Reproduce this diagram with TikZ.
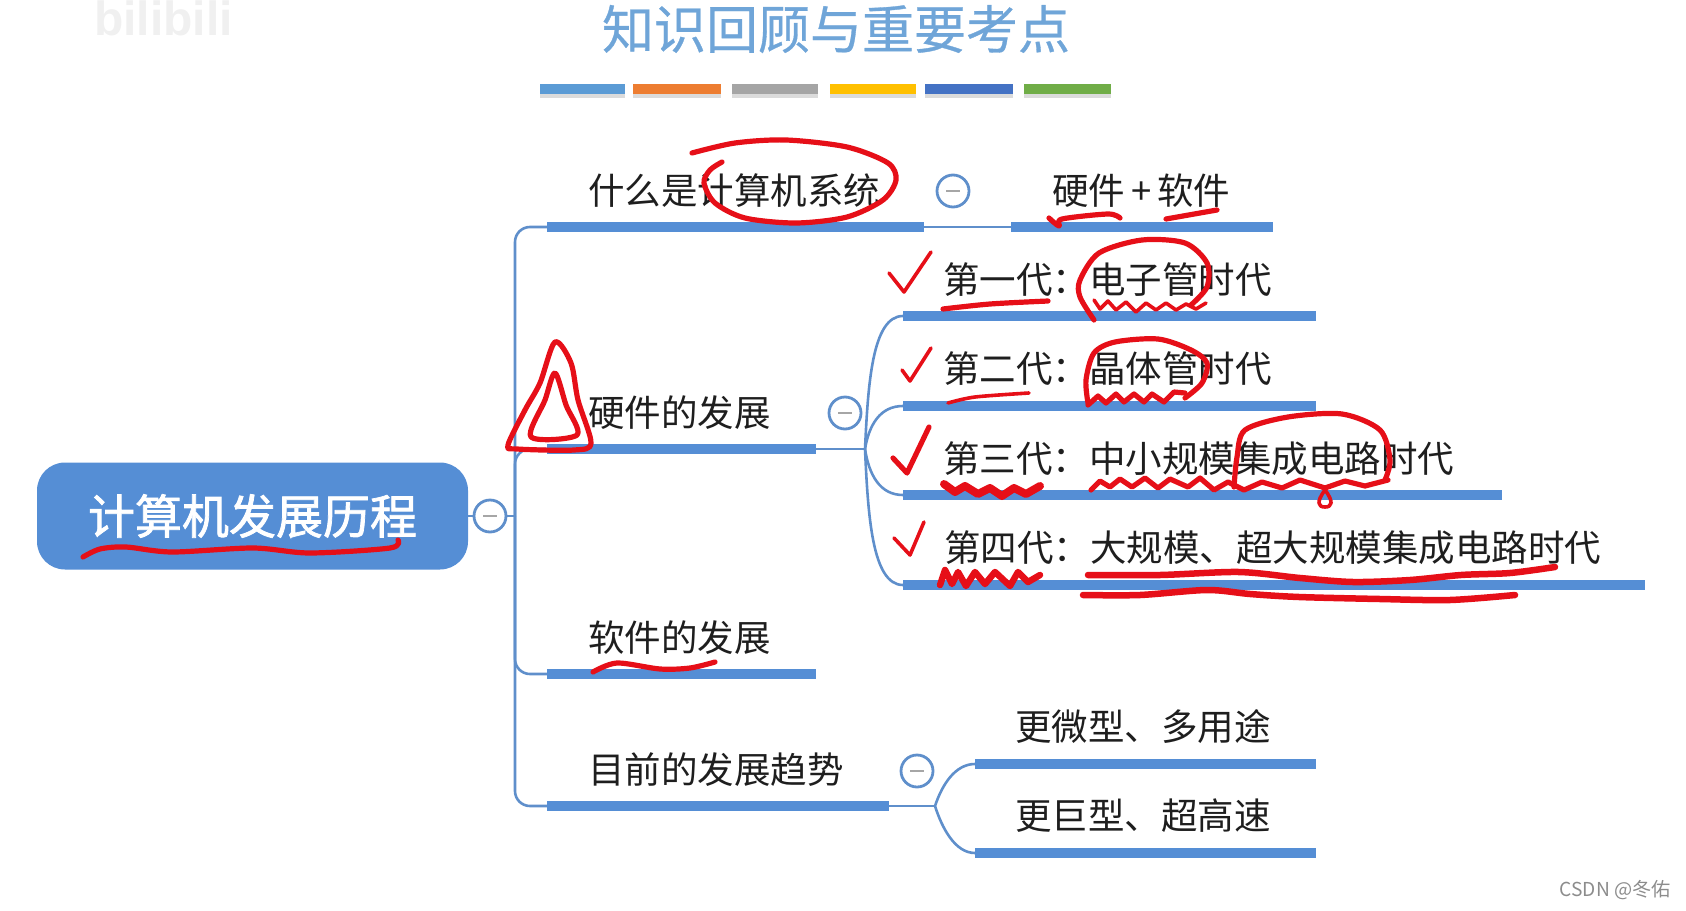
\documentclass[tikz,border=0pt]{standalone}
\usepackage{fontspec}
\setmainfont{Noto Sans CJK SC}
\newfontfamily\latinf{Liberation Sans}
\newfontfamily\rootf[FakeBold=1.6]{Noto Sans CJK SC}
\newfontfamily\titlef[FakeBold=0.6]{Noto Sans CJK SC}
\definecolor{mapblue}{HTML}{558ED5}
\definecolor{linkblue}{HTML}{5F8FCB}
\definecolor{inkred}{HTML}{E60F18}
\definecolor{titleblue}{HTML}{6FA5D8}
\definecolor{txt}{HTML}{1E1E1E}
\tikzset{
  barnode/.style={fill=mapblue,draw=none,anchor=west,inner sep=0pt,minimum height=10pt},
  lab/.style={anchor=west,inner sep=0pt,text=txt,font=\fontsize{36.5}{40}\selectfont},
  collapse/.style={circle,draw=linkblue,line width=2.8pt,fill=white,minimum size=32pt,inner sep=0pt,
    path picture={\draw[gray!70,line width=2.5pt] (-7pt,0)--(7pt,0);}},
  link/.style={draw=linkblue,line width=2.6pt},
  ink/.style={draw=inkred,line width=3.6pt,line cap=round,line join=round},
  inkthick/.style={draw=inkred,line width=5.2pt,line cap=round,line join=round},
  deco/.style={anchor=west,inner sep=0pt,minimum height=10pt},
  shade/.style={fill=black!14,draw=none,anchor=west,inner sep=0pt,minimum height=6pt}
}
\begin{document}
\begin{tikzpicture}[x=1pt,y=-1pt]
\useasboundingbox (0,0) rectangle (1686,910);
% watermark
\node[anchor=west,inner sep=0pt,text=black!6,font=\latinf\bfseries\fontsize{48}{50}\selectfont] (wm) at (94,18) {bilibili};
% title
\node[inner sep=0pt,text=titleblue,font=\titlef\fontsize{52}{56}\selectfont] (title) at (836,29) {知识回顾与重要考点};
% colour bars
\foreach \x/\w/\c in {540/85/5B9BD5,633/88/ED7D31,732/86/A5A5A5,830/86/FFC000,925/88/4472C4,1024/87/70AD47}{
  \definecolor{cc}{HTML}{\c}
  \node[shade,minimum width=\w pt] at (\x,95) {};
  \node[deco,fill=cc,minimum width=\w pt] at (\x,89) {};
}
% root
\node[fill=mapblue,rounded corners=28pt,minimum width=431pt,minimum height=107pt,inner sep=0pt,text=white,font=\rootf\fontsize{47}{50}\selectfont] (root) at (252.5,516) {计算机发展历程};
% bars
\node[barnode,minimum width=377pt] (whatbar) at (547,227) {};
\node[barnode,minimum width=262pt] (hsbar) at (1011,227) {};
\node[barnode,minimum width=269pt] (hwbar) at (547,449) {};
\node[barnode,minimum width=269pt] (swbar) at (547,674) {};
\node[barnode,minimum width=342pt] (trbar) at (547,806) {};
\node[barnode,minimum width=413pt] (g1bar) at (903,316) {};
\node[barnode,minimum width=413pt] (g2bar) at (903,406) {};
\node[barnode,minimum width=599pt] (g3bar) at (903,495) {};
\node[barnode,minimum width=742pt] (g4bar) at (903,585) {};
\node[barnode,minimum width=341pt] (t1bar) at (975,764) {};
\node[barnode,minimum width=341pt] (t2bar) at (975,853) {};
% junctions
\coordinate (trunk) at (515,516);
\coordinate (fork) at (865,449);
\coordinate (forkb) at (935,806);
% connectors
\draw[link] (root.east) -- (trunk);
\draw[link,rounded corners=15pt] (whatbar.west) -| (trunk);
\draw[link,rounded corners=15pt] (trbar.west) -| (trunk);
\draw[link,rounded corners=15pt] (swbar.west) -| (trunk);
\draw[link,rounded corners=15pt] (hwbar.west) -| (trunk);
\draw[link] (whatbar.east) -- (hsbar.west);
\draw[link] (hwbar.east) -- (fork);
\draw[link] (trbar.east) -- (forkb);
\draw[link] (fork) .. controls (868,385) and (872,316) .. (g1bar.west);
\draw[link] (fork) .. controls (869,425) and (880,406) .. (g2bar.west);
\draw[link] (fork) .. controls (869,475) and (880,495) .. (g3bar.west);
\draw[link] (fork) .. controls (868,515) and (872,585) .. (g4bar.west);
\draw[link] (forkb) .. controls (942,785) and (955,764) .. (t1bar.west);
\draw[link] (forkb) .. controls (942,828) and (955,853) .. (t2bar.west);
% collapse buttons
\node[collapse] (m0) at (490,516) {};
\node[collapse] (m1) at (953,191) {};
\node[collapse] (m2) at (845,413) {};
\node[collapse] (m3) at (917,771) {};
% texts
\node[lab] (what) at (588,191) {什么是计算机系统};
\node[lab] (hs) at (1052,191) {硬件\hspace{6pt}+\hspace{6pt}软件};
\node[lab] (hw) at (588,413) {硬件的发展};
\node[lab] (sw) at (588,638) {软件的发展};
\node[lab] (tr) at (588,770) {目前的发展趋势};
\node[lab] (g1) at (943,280) {第一代：电子管时代};
\node[lab] (g2) at (943,369) {第二代：晶体管时代};
\node[lab] (g3) at (943,459) {第三代：中小规模集成电路时代};
\node[lab] (g4) at (944,548) {第四代：大规模、超大规模集成电路时代};
\node[lab] (t1) at (1015,727) {更微型、多用途};
\node[lab] (t2) at (1015,816) {更巨型、超高速};
\node[anchor=east,inner sep=0pt,text=black!45,font=\fontsize{19.2}{20}\selectfont] (csdn) at (1671,890) {CSDN @冬佑};
% red annotations
\draw[inkthick] plot[smooth] coordinates {(692,153)(735,143)(786,140)(847,147)(888,163)(896,180)(883,200)(847,217)(796,223)(745,218)(715,203)(704,183)(710,170)(722,162)};
\draw[inkthick] plot[smooth] coordinates {(1049,218)(1059,226)(1062,219)(1108,214)(1120,218)};
\draw[inkthick] (1166,219) -- (1217,210);
\draw[ink] (889,273) -- (904,292) -- (931,252);
\draw[inkthick] plot[smooth] coordinates {(943,309)(990,304)(1048,301)};
\draw[inkthick] plot[smooth] coordinates {(1094,320)(1080,297)(1080,280)(1099,253)(1142,240)(1185,243)(1207,263)(1207,287)(1191,305)};
\draw[ink] plot coordinates {(1094,300)(1100,309)(1108,301)(1116,310)(1126,302)(1136,312)(1146,303)(1156,310)(1166,303)(1176,310)(1186,304)(1196,309)(1206,303)};
\draw[ink] (902,370) -- (910,381) -- (931,348);
\draw[ink] plot[smooth] coordinates {(948,403)(975,397)(1029,393)};
\draw[inkthick] plot[smooth] coordinates {(1088,403)(1086,380)(1094,353)(1115,342)(1158,339)(1191,350)(1207,363)(1202,383)(1185,398)};
\draw[inkthick] plot coordinates {(1088,405)(1098,396)(1106,403)(1116,394)(1124,402)(1134,394)(1144,402)(1152,394)(1164,402)(1174,392)(1185,393)};
\draw[inkthick] (893,458) -- (907,473) -- (929,427);
\draw[inkthick,line width=8pt] plot coordinates {(944,484)(955,492)(965,486)(978,494)(990,488)(1002,496)(1014,488)(1026,494)(1040,486)};
\draw[inkthick] plot coordinates {(1091,490)(1100,481)(1110,487)(1120,479)(1132,487)(1145,478)(1158,488)(1170,479)(1188,487)(1200,478)(1214,490)(1228,482)(1244,490)(1262,482)(1282,488)(1300,480)(1325,488)(1345,481)(1365,486)(1388,480)};
\draw[inkthick] plot[smooth] coordinates {(1234,487)(1237,457)(1245,430)(1288,417)(1342,414)(1380,430)(1390,460)(1385,480)};
\draw[ink] (1325,490) .. controls (1316,502) and (1318,507) .. (1325,507) .. controls (1332,507) and (1334,502) .. (1325,490);
\draw[ink] (894,538) -- (910,555) -- (924,522);
\draw[inkthick,line width=6.5pt] plot coordinates {(940,585)(945,570)(952,584)(958,572)(966,586)(975,572)(985,584)(995,572)(1010,586)(1018,572)(1028,582)(1040,575)};
\draw[inkthick,line width=6.5pt] plot[smooth] coordinates {(1088,575)(1160,575)(1239,572)(1300,578)(1353,582)(1410,580)(1461,575)(1510,573)(1555,567)};
\draw[inkthick,line width=6.5pt] plot[smooth] coordinates {(1083,595)(1140,595)(1207,590)(1250,594)(1299,597)(1380,599)(1450,600)(1515,595)};
\draw[inkthick] plot[smooth] coordinates {(83,557)(100,549)(126,547)(172,552)(253,548)(310,553)(390,548)(398,540)};
\draw[inkthick] plot[smooth cycle] coordinates {(555,342)(571,363)(578,400)(591,443)(574,450)(517,449)(508,445)(525,410)(540,383)};
\draw[inkthick] plot[smooth cycle] coordinates {(555,373)(566,405)(577,435)(531,437)(545,400)};
\draw[inkthick] plot[smooth] coordinates {(593,672)(617,663)(660,669)(690,668)(715,662)};
\end{tikzpicture}
\end{document}
